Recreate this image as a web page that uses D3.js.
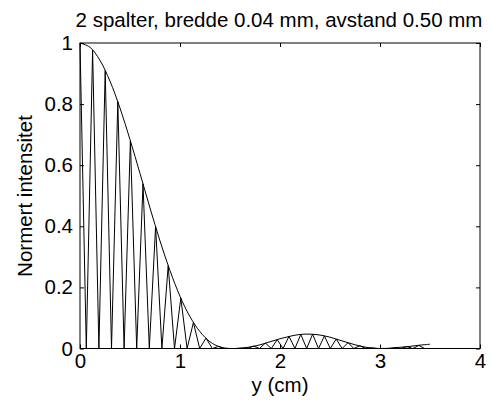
<!DOCTYPE html>
<html>
<head>
<meta charset="utf-8">
<script src="https://cdn.jsdelivr.net/npm/d3@7"></script>
<style>
  body { margin: 0; background: #fff; }
  text { font-family: "Liberation Sans", Arial, sans-serif; fill: #000; }
</style>
</head>
<body>
<div id="chart"></div>
<script>
// envelope (single slit)
const envY = [0, 0.1, 0.2, 0.3, 0.4, 0.5, 0.6, 0.7, 0.8, 0.9, 1.0, 1.1, 1.2, 1.3, 1.4, 1.5,
              1.6, 1.7, 1.8, 1.9, 2.0, 2.1, 2.2, 2.3, 2.4, 2.5, 2.6, 2.7, 2.8, 2.9, 3.0,
              3.1, 3.2, 3.3, 3.4, 3.5];
const envI = [1, 0.986, 0.943, 0.875, 0.787, 0.684, 0.573, 0.460, 0.352, 0.255, 0.171, 0.104, 0.055, 0.022, 0.005, 0,
              0.001, 0.005, 0.012, 0.022, 0.032, 0.040, 0.046, 0.047, 0.044, 0.037, 0.027, 0.017, 0.008, 0.002, 0,
              0.001, 0.004, 0.007, 0.011, 0.014];

// fringe maxima and the minima between them
const peakY = [0, 0.126, 0.252, 0.378, 0.504, 0.630, 0.756, 0.882, 1.008, 1.134, 1.260, 1.386, 1.500,
               1.618, 1.736, 1.854, 1.972, 2.090, 2.208, 2.326, 2.444, 2.562, 2.680, 2.798, 2.916,
               3.034, 3.152, 3.270, 3.388];
const peakI = [1, 0.977, 0.910, 0.808, 0.680, 0.539, 0.399, 0.271, 0.165, 0.085, 0.034, 0.007, 0.000,
               0.001, 0.008, 0.018, 0.029, 0.040, 0.046, 0.047, 0.041, 0.031, 0.019, 0.009, 0.002,
               0.000, 0.002, 0.006, 0.010];
const zeroY = [0.063, 0.189, 0.315, 0.441, 0.567, 0.693, 0.819, 0.945, 1.071, 1.197, 1.323, 1.443,
               1.559, 1.677, 1.795, 1.913, 2.031, 2.149, 2.267, 2.385, 2.503, 2.621, 2.739, 2.857,
               2.975, 3.093, 3.211, 3.329, 3.447];

const xTicks = [0, 1, 2, 3, 4];
const yTicks = [0, 0.2, 0.4, 0.6, 0.8, 1];

const width = 491, height = 409;
const mLeft = 80, mRight = 480, mTop = 43, mBottom = 348.5;

const svg = d3.select("#chart").append("svg")
  .attr("width", width)
  .attr("height", height);

const x = d3.scaleLinear().domain([0, 4]).range([mLeft, mRight]);
const y = d3.scaleLinear().domain([0, 1]).range([mBottom, mTop]);

// zigzag: peak, zero, peak, zero ...
const zig = [];
peakY.forEach((p, i) => {
  zig.push([p, peakI[i]]);
  if (i < zeroY.length) zig.push([zeroY[i], 0]);
});

const line = d3.line().x(d => x(d[0])).y(d => y(d[1]));

svg.append("path")
  .datum(zig)
  .attr("d", line)
  .attr("fill", "none")
  .attr("stroke", "#000")
  .attr("stroke-width", 1);

svg.append("path")
  .datum(envY.map((v, i) => [v, envI[i]]))
  .attr("d", line.curve(d3.curveCatmullRom))
  .attr("fill", "none")
  .attr("stroke", "#000")
  .attr("stroke-width", 1);

const fmt = d => d3.format("~g")(d);

// axes, ticks pointing in
const gx = svg.append("g")
  .attr("transform", `translate(0,${mBottom})`)
  .call(d3.axisBottom(x).tickValues(xTicks).tickFormat(fmt).tickSize(-4).tickPadding(5));
const gxt = svg.append("g")
  .attr("transform", `translate(0,${mTop})`)
  .call(d3.axisTop(x).tickValues(xTicks).tickFormat("").tickSize(-4));
const gy = svg.append("g")
  .attr("transform", `translate(${mLeft},0)`)
  .call(d3.axisLeft(y).tickValues(yTicks).tickFormat(fmt).tickSize(-4).tickPadding(7));
const gyr = svg.append("g")
  .attr("transform", `translate(${mRight},0)`)
  .call(d3.axisRight(y).tickValues(yTicks).tickFormat("").tickSize(-4));

[gx, gxt, gy, gyr].forEach(g => {
  g.select(".domain").remove();
  g.selectAll("line").attr("stroke", "#000");
  g.selectAll("text").attr("font-size", "20.5px").attr("font-family", "Liberation Sans, Arial, sans-serif");
});

svg.append("rect")
  .attr("x", mLeft).attr("y", mTop)
  .attr("width", mRight - mLeft).attr("height", mBottom - mTop)
  .attr("fill", "none").attr("stroke", "#000").attr("stroke-width", 1);

svg.append("text")
  .attr("x", (mLeft + mRight) / 2 - 1).attr("y", 26.5)
  .attr("text-anchor", "middle")
  .attr("font-size", "20.5px")
  .text("2 spalter, bredde 0.04 mm, avstand 0.50 mm");

svg.append("text")
  .attr("x", (mLeft + mRight) / 2).attr("y", 392)
  .attr("text-anchor", "middle")
  .attr("font-size", "20.5px")
  .text("y (cm)");

svg.append("text")
  .attr("transform", `translate(32,196) rotate(-90)`)
  .attr("text-anchor", "middle")
  .attr("font-size", "20.5px")
  .text("Normert intensitet");
</script>
</body>
</html>
